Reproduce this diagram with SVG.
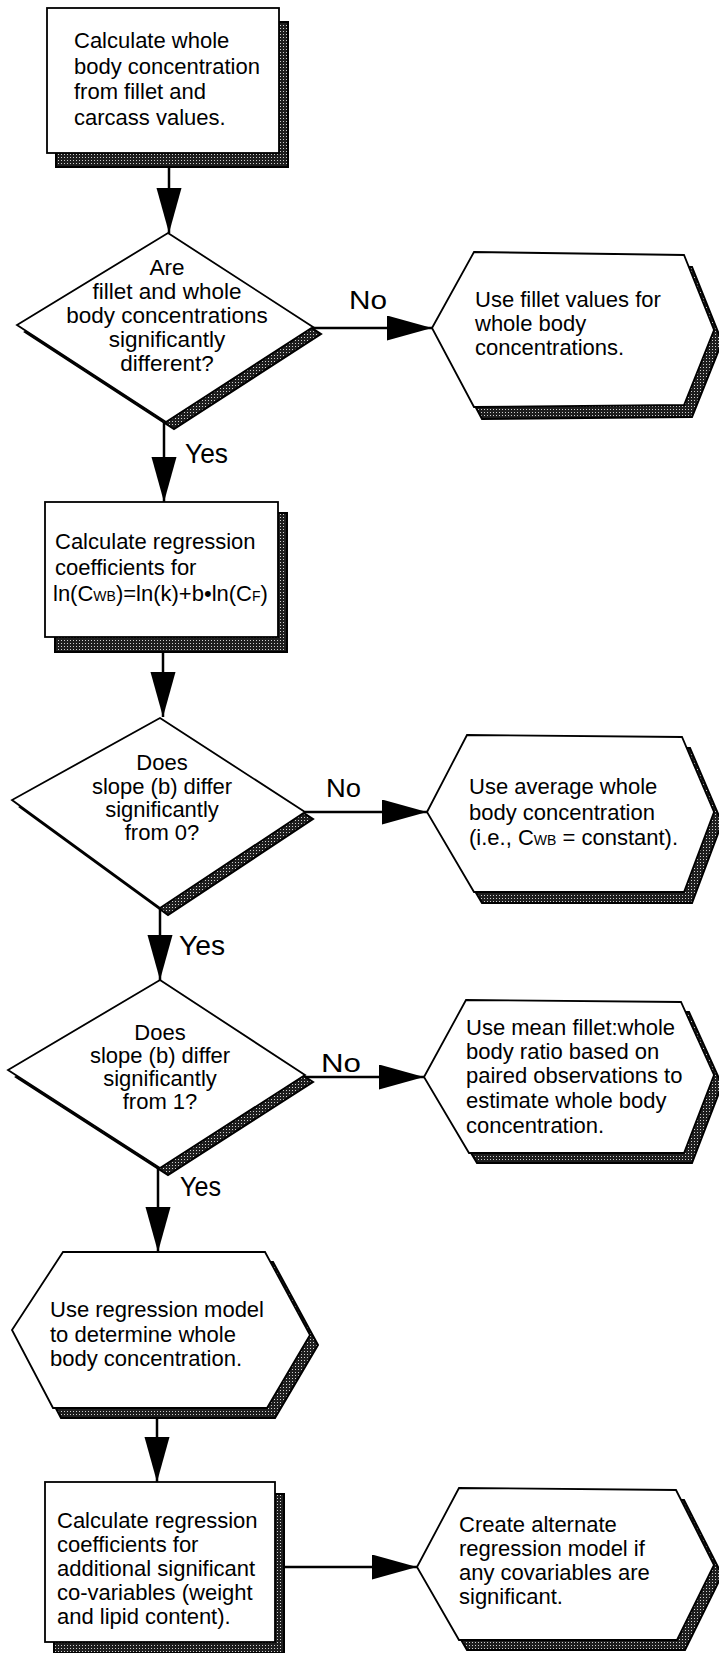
<svg xmlns="http://www.w3.org/2000/svg" width="719" height="1653" viewBox="0 0 719 1653">
<defs>
<pattern id="stip" width="3" height="3" patternUnits="userSpaceOnUse"><rect width="3" height="3" fill="#1e1e1e"/><rect x="1" y="1" width="1" height="1" fill="#cfcfcf"/></pattern>
<marker id="ah" markerUnits="userSpaceOnUse" markerWidth="46" markerHeight="26" refX="45" refY="12.5" orient="auto"><path d="M0,0 L45,12.5 L0,25 Z" fill="#000"/></marker>
</defs>
<style>
.n{fill:#fff;stroke:#000;stroke-width:1.8;stroke-linejoin:miter}
.sh{fill:url(#stip);stroke:#000;stroke-width:2}
.t{font-family:"Liberation Sans",Arial,sans-serif;font-size:22px;fill:#000}
.c{text-anchor:middle}
.d1{font-size:22.5px}
.lbl{font-family:"Liberation Sans",Arial,sans-serif;font-size:25px;fill:#000}
.yes{font-size:28px}
.e{stroke:#000;stroke-width:2.5;fill:none;marker-end:url(#ah)}
.s{font-size:14px}
</style>
<rect width="719" height="1653" fill="#fff"/>

<g id="connectors">
<path class="e" d="M169,167 V233"/>
<path class="e" d="M164,422 V502"/>
<path class="e" d="M163,652 V717"/>
<path class="e" d="M160,908 V980"/>
<path class="e" d="M158,1168 V1252"/>
<path class="e" d="M157,1418 V1482"/>
<path class="e" d="M313,328 H432"/>
<path class="e" d="M305,812 H427"/>
<path class="e" d="M305,1077 H424"/>
<path class="e" d="M284,1567 H417"/>
<text class="lbl" x="349" y="309" textLength="38" lengthAdjust="spacingAndGlyphs">No</text>
<text class="lbl" x="326" y="797" textLength="35" lengthAdjust="spacingAndGlyphs">No</text>
<text class="lbl" x="321" y="1072" textLength="40" lengthAdjust="spacingAndGlyphs">No</text>
<text class="lbl yes" x="185" y="463" textLength="43" lengthAdjust="spacingAndGlyphs">Yes</text>
<text class="lbl yes" x="179" y="955" textLength="46" lengthAdjust="spacingAndGlyphs">Yes</text>
<text class="lbl yes" x="180" y="1196" textLength="41" lengthAdjust="spacingAndGlyphs">Yes</text>
</g>

<g id="box1">
<rect class="sh" x="56" y="22" width="232" height="145"/>
<rect class="n" x="47" y="8" width="232" height="145"/>
<text class="t" x="74" y="48">Calculate whole</text>
<text class="t" x="74" y="74">body concentration</text>
<text class="t" x="74" y="99">from fillet and</text>
<text class="t" x="74" y="125">carcass values.</text>
</g>

<g id="decision1">
<polygon class="sh" points="176,240 321,334 174,429 25,332"/>
<polygon class="n" points="168,233 313,327 166,422 17,325"/>
<text class="t c d1" x="167" y="275">Are</text>
<text class="t c d1" x="167" y="299">fillet and whole</text>
<text class="t c d1" x="167" y="323">body concentrations</text>
<text class="t c d1" x="167" y="347">significantly</text>
<text class="t c d1" x="167" y="371">different?</text>
</g>

<g id="useFillet">
<polygon class="sh" points="440,340 482,264 692,267 722,342 692,417 482,419"/>
<polygon class="n" points="432,328 474,252 684,255 714,330 684,405 474,407"/>
<text class="t" x="475" y="307">Use fillet values for</text>
<text class="t" x="475" y="331">whole body</text>
<text class="t" x="475" y="355">concentrations.</text>
</g>

<g id="box2">
<rect class="sh" x="55" y="513" width="232" height="139"/>
<rect class="n" x="45" y="502" width="233" height="135"/>
<text class="t" x="55" y="549">Calculate regression</text>
<text class="t" x="55" y="575">coefficients for</text>
<text class="t" x="53" y="601">ln(C<tspan class="s">WB</tspan>)=ln(k)+b•ln(C<tspan class="s">F</tspan>)</text>
</g>

<g id="decision2">
<polygon class="sh" points="168,725 313,819 168,915 20,807"/>
<polygon class="n" points="160,718 305,812 160,908 12,800"/>
<text class="t c" x="162" y="770">Does</text>
<text class="t c" x="162" y="794">slope (b) differ</text>
<text class="t c" x="162" y="817">significantly</text>
<text class="t c" x="162" y="840">from 0?</text>
</g>

<g id="useAverage">
<polygon class="sh" points="435,823 475,746 690,748 722,823 692,903 482,903"/>
<polygon class="n" points="427,812 467,735 682,737 714,812 684,892 474,892"/>
<text class="t" x="469" y="794">Use average whole</text>
<text class="t" x="469" y="820">body concentration</text>
<text class="t" x="469" y="845">(i.e., C<tspan class="s">WB</tspan> = constant).</text>
</g>

<g id="decision3">
<polygon class="sh" points="168,987 313,1082 168,1175 16,1077"/>
<polygon class="n" points="160,980 305,1075 160,1168 8,1070"/>
<text class="t c" x="160" y="1040">Does</text>
<text class="t c" x="160" y="1063">slope (b) differ</text>
<text class="t c" x="160" y="1086">significantly</text>
<text class="t c" x="160" y="1109">from 1?</text>
</g>

<g id="useMeanRatio">
<polygon class="sh" points="432,1087 474,1010 689,1012 722,1085 692,1163 477,1163"/>
<polygon class="n" points="424,1077 466,1000 681,1002 714,1075 684,1153 469,1153"/>
<text class="t" x="466" y="1035">Use mean fillet:whole</text>
<text class="t" x="466" y="1059">body ratio based on</text>
<text class="t" x="466" y="1083">paired observations to</text>
<text class="t" x="466" y="1108">estimate whole body</text>
<text class="t" x="466" y="1133">concentration.</text>
</g>

<g id="useRegression">
<polygon class="sh" points="20,1340 71,1262 273,1262 318,1345 275,1418 61,1418"/>
<polygon class="n" points="12,1330 63,1252 265,1252 310,1335 267,1408 53,1408"/>
<text class="t" x="50" y="1317">Use regression model</text>
<text class="t" x="50" y="1342">to determine whole</text>
<text class="t" x="50" y="1366">body concentration.</text>
</g>

<g id="box6">
<rect class="sh" x="54" y="1494" width="230" height="159"/>
<rect class="n" x="45" y="1482" width="230" height="160"/>
<text class="t" x="57" y="1528">Calculate regression</text>
<text class="t" x="57" y="1552">coefficients for</text>
<text class="t" x="57" y="1576">additional significant</text>
<text class="t" x="57" y="1600">co-variables (weight</text>
<text class="t" x="57" y="1624">and lipid content).</text>
</g>

<g id="alternateModel">
<polygon class="sh" points="425,1577 467,1498 684,1500 722,1575 685,1650 467,1650"/>
<polygon class="n" points="417,1567 459,1488 676,1490 714,1565 677,1640 459,1640"/>
<text class="t" x="459" y="1532">Create alternate</text>
<text class="t" x="459" y="1556">regression model if</text>
<text class="t" x="459" y="1580">any covariables are</text>
<text class="t" x="459" y="1604">significant.</text>
</g>
</svg>
